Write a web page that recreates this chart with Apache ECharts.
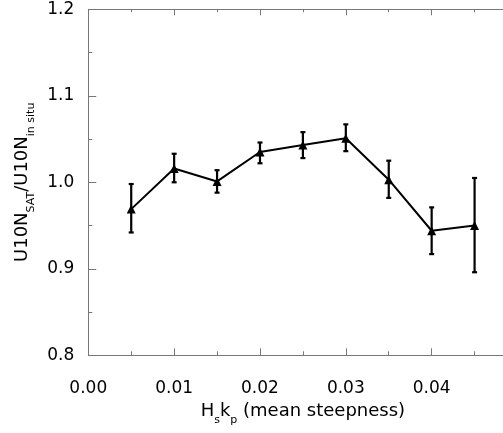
<!DOCTYPE html>
<html>
<head>
<meta charset="utf-8">
<script src="https://cdn.jsdelivr.net/npm/echarts@6/dist/echarts.min.js"></script>
<style>
html,body{margin:0;padding:0;background:#fff;}
#c{width:503px;height:433px;}
</style>
</head>
<body>
<div id="c"></div>
<script>
var steepness = [0.005, 0.010, 0.015, 0.020, 0.025, 0.030, 0.035, 0.040, 0.045];
var ratioMean = [0.969, 1.016, 1.001, 1.035, 1.043, 1.051, 1.003, 0.944, 0.950];
var ratioUpper = [0.998, 1.033, 1.014, 1.046, 1.058, 1.067, 1.025, 0.971, 1.005];
var ratioLower = [0.942, 1.000, 0.988, 1.022, 1.028, 1.036, 0.982, 0.917, 0.896];

var FONT = 'DejaVu Sans';
var axisCol = '#777';

var lineData = steepness.map(function (x, i) { return [x, ratioMean[i]]; });
var errData = steepness.map(function (x, i) { return [x, ratioLower[i], ratioUpper[i]]; });

var chart = echarts.init(document.getElementById('c'), null, {renderer: 'canvas'});
chart.setOption({
  animation: false,
  backgroundColor: '#fff',
  grid: {left: 88.3, top: 9.3, right: -14.5, bottom: 77.7, containLabel: false, outerBoundsMode: 'none'},
  xAxis: [{
    type: 'value', min: 0, max: 0.05, interval: 0.01, position: 'bottom',
    axisLine: {show: true, onZero: false, lineStyle: {color: axisCol, width: 1}},
    axisTick: {show: true, inside: true, length: 7, lineStyle: {color: axisCol, width: 1}},
    minorTick: {show: true, splitNumber: 2, length: 4, lineStyle: {color: axisCol, width: 1}},
    splitLine: {show: false},
    axisLabel: {margin: 25, color: '#000', fontFamily: FONT, fontSize: 17,
      formatter: function (v) { return v > 0.0451 ? '' : v.toFixed(2); }},
    name: '{m|H}{s|s}{m|k}{s|p}{m| (mean steepness)}',
    nameLocation: 'middle', nameGap: 42,
    nameTextStyle: {
      rich: {
        m: {fontFamily: FONT, fontSize: 18, color: '#000', lineHeight: 28, verticalAlign: 'middle'},
        s: {fontFamily: FONT, fontSize: 11, color: '#000', lineHeight: 11, verticalAlign: 'bottom'}
      }
    }
  }, {
    type: 'value', min: 0, max: 0.05, interval: 0.01, position: 'top',
    axisLine: {show: true, onZero: false, lineStyle: {color: axisCol, width: 1}},
    axisTick: {show: true, inside: true, length: 6, lineStyle: {color: axisCol, width: 1}},
    minorTick: {show: true, splitNumber: 2, length: 3, lineStyle: {color: axisCol, width: 1}},
    splitLine: {show: false},
    axisLabel: {show: false}
  }],
  yAxis: {
    type: 'value', min: 0.8, max: 1.2, interval: 0.1,
    axisLine: {show: true, onZero: false, lineStyle: {color: axisCol, width: 1}},
    axisTick: {show: true, inside: true, length: 8, lineStyle: {color: axisCol, width: 1}},
    minorTick: {show: true, splitNumber: 2, length: 4, lineStyle: {color: axisCol, width: 1}},
    splitLine: {show: false},
    axisLabel: {margin: 14, color: '#000', fontFamily: FONT, fontSize: 17,
      formatter: function (v) { return v.toFixed(1); }},
    name: '{m|U10N}{s|SAT}{m|/U10N}{s|in situ}',
    nameLocation: 'middle', nameGap: 51, nameRotate: 90,
    nameTextStyle: {
      rich: {
        m: {fontFamily: FONT, fontSize: 18, color: '#000', lineHeight: 28, verticalAlign: 'middle'},
        s: {fontFamily: FONT, fontSize: 11, color: '#000', lineHeight: 11, verticalAlign: 'bottom'}
      }
    }
  },
  series: [{
    type: 'custom',
    xAxisIndex: 0,
    data: errData,
    renderItem: function (params, api) {
      var x = api.value(0);
      var lo = api.coord([x, api.value(1)]);
      var hi = api.coord([x, api.value(2)]);
      var cw = 2.5;
      var st = {stroke: '#000', lineWidth: 2.2, fill: null};
      return {
        type: 'group',
        children: [
          {type: 'line', shape: {x1: lo[0], y1: lo[1], x2: hi[0], y2: hi[1]}, style: st},
          {type: 'line', shape: {x1: lo[0] - cw, y1: lo[1], x2: lo[0] + cw, y2: lo[1]}, style: st},
          {type: 'line', shape: {x1: hi[0] - cw, y1: hi[1], x2: hi[0] + cw, y2: hi[1]}, style: st}
        ]
      };
    },
    z: 3
  }, {
    type: 'line',
    xAxisIndex: 0,
    data: lineData,
    symbol: 'triangle',
    symbolSize: 9,
    showSymbol: true,
    itemStyle: {color: '#000'},
    lineStyle: {color: '#000', width: 2},
    z: 4
  }]
});
</script>
</body>
</html>
